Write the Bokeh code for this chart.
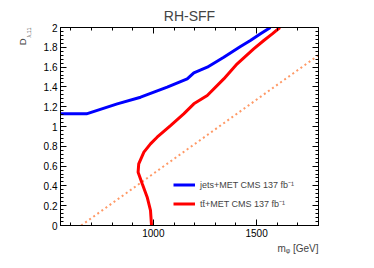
from bokeh.plotting import figure
from bokeh.models import (Range1d, FixedTicker, LinearAxis, Title, Legend, LegendItem,
                          CustomJSTickFormatter)
from bokeh.embed import file_html
from bokeh.resources import INLINE

# ---- data ----
m_jets = [550, 676, 825, 938, 1067, 1164, 1196, 1261, 1341, 1422, 1470, 1519, 1567]
d_jets = [1.128, 1.128, 1.229, 1.296, 1.397, 1.481, 1.542, 1.599, 1.700, 1.808, 1.869, 1.936, 2.0]

m_tt = [991, 986, 970, 946, 926, 929, 954, 986, 1018, 1083, 1147, 1196, 1261, 1341, 1406, 1486, 1535, 1576, 1613]
d_tt = [0, 0.152, 0.286, 0.421, 0.539, 0.623, 0.741, 0.825, 0.892, 1.010, 1.128, 1.229, 1.313, 1.481, 1.633, 1.785, 1.869, 1.936, 2.0]

m_diag = [650, 1800]
d_diag = [0, 1.72]

x_major = [1000, 1500]
x_minor = [600, 700, 800, 900, 1000, 1100, 1200, 1300, 1400, 1500, 1600, 1700, 1800]
y_major = [0, 0.2, 0.4, 0.6, 0.8, 1, 1.2, 1.4, 1.6, 1.8, 2]
y_minor = [round(i * 0.04, 2) for i in range(51)]

FONT = "Liberation Sans"

p = figure(width=374, height=268, output_backend="svg", toolbar_location=None,
           x_range=Range1d(550, 1800), y_range=Range1d(0, 2),
           min_border_left=60, min_border_right=56, min_border_top=27, min_border_bottom=43,
           title="RH-SFF", title_location="above")
p.title.align = "center"
p.title.text_font = FONT
p.title.text_font_size = "14px"
p.title.text_font_style = "normal"
p.title.standoff = 7
p.grid.visible = False
p.outline_line_color = "black"
p.outline_line_width = 1
p.background_fill_color = "white"
p.border_fill_color = "white"

fmt = CustomJSTickFormatter(code="return String(Number(tick.toFixed(2)));")
blank = CustomJSTickFormatter(code="return '';")

def style_axis(ax, labels=True):
    ax.axis_line_color = "black"
    ax.major_tick_line_color = "black"
    ax.minor_tick_line_color = "black"
    ax.major_tick_in = 6
    ax.major_tick_out = 0
    ax.minor_tick_in = 3
    ax.minor_tick_out = 0
    ax.major_label_text_font = FONT
    ax.major_label_text_font_size = "10px"
    ax.major_label_text_color = "black"
    ax.major_label_standoff = 3
    if not labels:
        ax.major_label_standoff = 0
        ax.major_label_text_font_size = "1px"

p.xaxis.ticker = FixedTicker(ticks=x_major, minor_ticks=x_minor)
p.yaxis.ticker = FixedTicker(ticks=y_major, minor_ticks=y_minor)
p.xaxis.formatter = fmt
p.yaxis.formatter = fmt
style_axis(p.xaxis[0])
style_axis(p.yaxis[0])
# reserve a small gap between tick labels and the y title
p.yaxis.axis_label = " "
p.yaxis.axis_label_text_font_size = "1px"
p.yaxis.axis_label_standoff = 3

top = LinearAxis(ticker=FixedTicker(ticks=x_major, minor_ticks=x_minor), formatter=blank)
right = LinearAxis(ticker=FixedTicker(ticks=y_major, minor_ticks=y_minor), formatter=blank)
style_axis(top, labels=False)
style_axis(right, labels=False)
p.add_layout(top, "above")
p.add_layout(right, "right")

p.line(m_diag, d_diag, line_color="#ff9966", line_width=2, line_dash="2 3")
r_jets = p.line(m_jets, d_jets, line_color="#0000ff", line_width=3)
r_tt = p.line(m_tt, d_tt, line_color="#ff0000", line_width=3)

legend = Legend(items=[LegendItem(label="jets+MET CMS 137 fb\u207b\u00b9", renderers=[r_jets]),
                       LegendItem(label="tt\u0304+MET CMS 137 fb\u207b\u00b9", renderers=[r_tt])],
                location=(113, 12), padding=0, margin=0, spacing=0,
                glyph_width=22, glyph_height=19, label_height=19, label_standoff=5,
                label_text_font=FONT, label_text_font_size="9px",
                border_line_color=None, background_fill_alpha=0)
p.add_layout(legend, "center")

# x axis label  m_phi [GeV]
xlab = Title(text="m\u1d69 [GeV]", align="right", text_font=FONT, text_font_size="10px",
             text_font_style="normal", standoff=2)
p.add_layout(xlab, "below")

# y axis label  D_{lambda,11}: subscript (inner column) and D (outer column)
ysub = Title(text="\u03bb,11", align="right", offset=0, vertical_align="top",
             text_font=FONT, text_font_size="5.5px", text_font_style="normal", standoff=0)
yD = Title(text="D", align="right", offset=11, vertical_align="bottom",
           text_font=FONT, text_font_size="9.5px", text_font_style="normal", standoff=-5)
p.add_layout(ysub, "left")
p.add_layout(yD, "left")

open("out.html", "w").write(file_html(p, INLINE))
